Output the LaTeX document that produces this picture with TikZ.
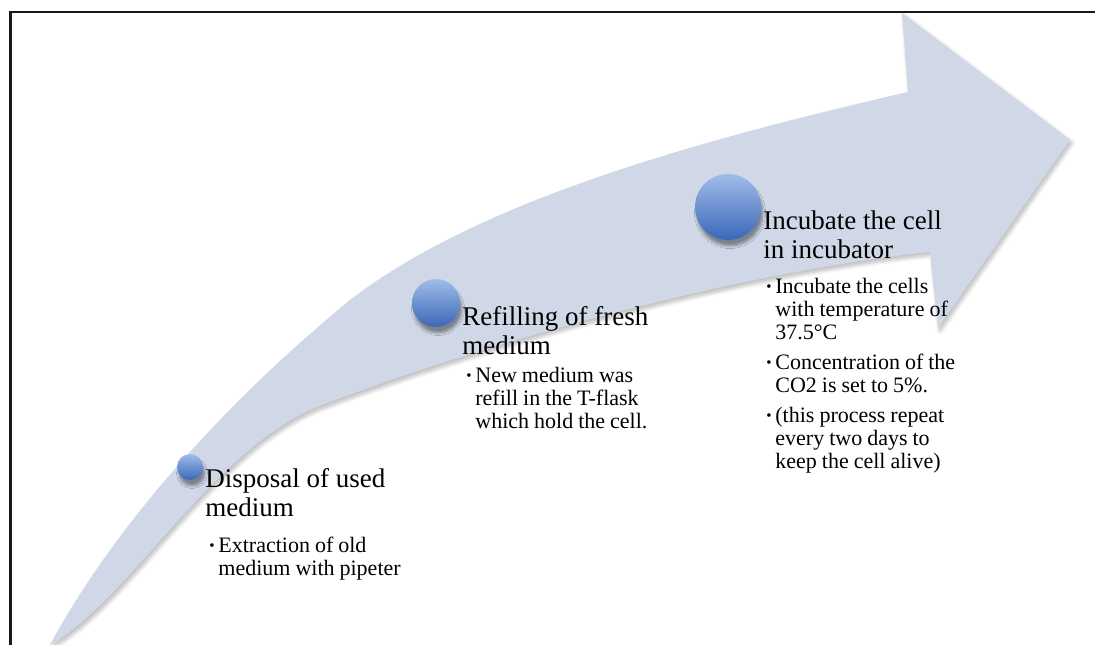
\documentclass[tikz,border=0pt]{standalone}
\usepackage{fontspec}
\setmainfont{Liberation Serif}
\usetikzlibrary{positioning,shadows.blur}
\definecolor{shaft}{RGB}{208,216,232}
\definecolor{balltop}{RGB}{160,188,234}
\definecolor{ballbot}{RGB}{58,104,182}
% one bullet item with hanging indent
\newcommand{\bitem}[1]{\spaceskip=5pt plus 1pt\relax\hangindent=9pt\hangafter=1\noindent\makebox[9pt][l]{\raisebox{2pt}{\fontsize{15}{15}\selectfont\textbullet}}#1\par\vskip7pt}

\begin{document}
\begin{tikzpicture}[x=1pt,y=-1pt]
\tikzset{
  ball/.style={circle, inner sep=0, shading=axis, top color=balltop, bottom color=ballbot,
    blur shadow={shadow xshift=2pt, shadow yshift=-6pt, shadow opacity=40, shadow blur radius=2.5pt, shadow blur steps=8}},
  steptitle/.style={anchor=north west, align=left, inner sep=0, font=\fontsize{27}{29}\selectfont},
  steplist/.style={anchor=base west, text width=250pt, inner sep=0, font=\fontsize{22}{23}\selectfont}
}
\useasboundingbox (0,0) rectangle (1095,645);
% frame
\draw[line width=2.5pt, black!90] (10.5,645) -- (10.5,12) -- (1095,12);
% curved arrow
\fill[shaft, blur shadow={shadow xshift=2pt, shadow yshift=-3pt, shadow opacity=28, shadow blur radius=4pt, shadow blur steps=10}]
  (50,645) .. controls (90,570) and (180,440) .. (350,300)
  .. controls (480,200) and (700,140) .. (908,92)
  -- (902,13) -- (1070,140) -- (938,328) -- (930,252)
  .. controls (760,270) and (520,330) .. (317,407)
  .. controls (210,452) and (130,600) .. (50,645) -- cycle;
% step 1: disposal
\node[ball, minimum size=26pt] (b1) at (190,467) {};
\node[steptitle] (t1) at ([xshift=2pt,yshift=-1pt]b1.east) {Disposal of used\\medium};
\node[steplist] (l1) at ([xshift=4pt,yshift=-36pt]t1.south west)
  {\bitem{Extraction of old\newline medium with pipeter}};
% step 2: refilling
\node[ball, minimum size=48pt] (b2) at (436,303) {};
\node[steptitle] (t2) at ([xshift=2pt,yshift=-3pt]b2.east) {Refilling of fresh\\medium};
\node[steplist] (l2) at ([xshift=4pt,yshift=-28pt]t2.south west)
  {\bitem{New medium was\newline refill in the T-flask\newline which hold the cell.}};
% step 3: incubate
\node[ball, minimum size=66pt] (b3) at (728,207) {};
\node[steptitle] (t3) at ([xshift=2pt,yshift=-4pt]b3.east) {Incubate the cell\\in incubator};
\node[steplist] (l3) at ([xshift=3pt,yshift=-34pt]t3.south west)
  {\bitem{Incubate the cells\newline with temperature of\newline 37.5°C}
   \bitem{Concentration of the\newline CO2 is set to 5\%.}
   \bitem{(this process repeat\newline every two days to\newline keep the cell alive)}};
\end{tikzpicture}
\end{document}
